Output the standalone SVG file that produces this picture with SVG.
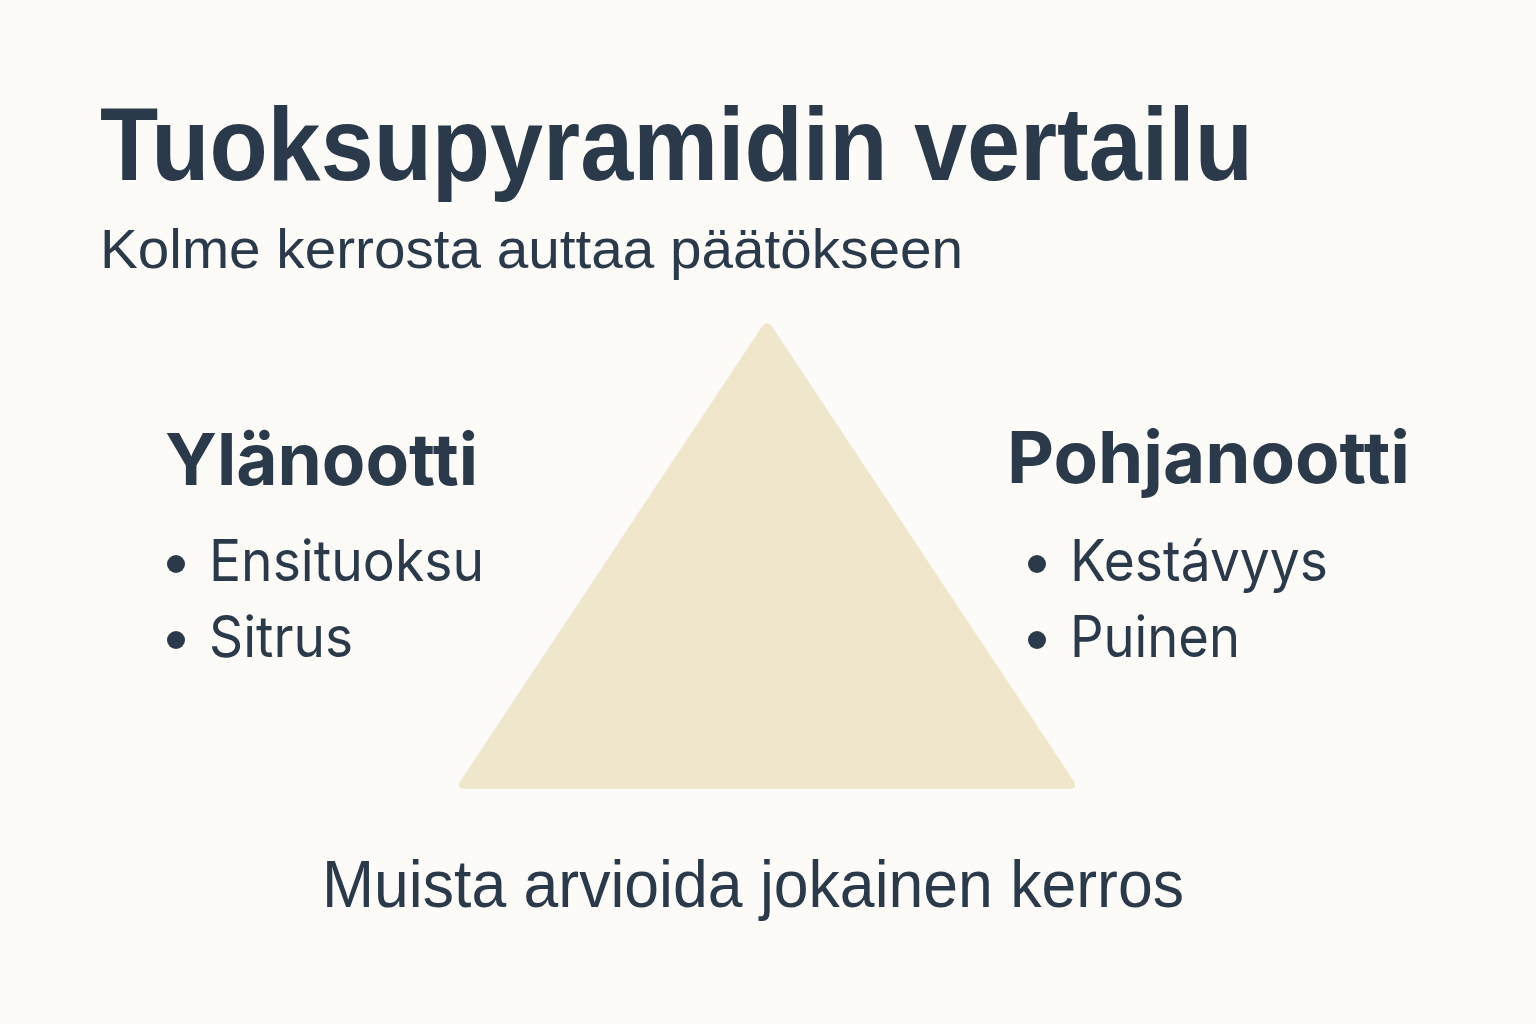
<svg xmlns="http://www.w3.org/2000/svg" width="1536" height="1024" viewBox="0 0 1536 1024">
<style>
.t{fill:#2B3A4A;font-family:"Liberation Sans",Arial,sans-serif}
.h{fill:#2B3A4A;font-family:Inter,"Noto Sans",sans-serif;font-weight:700}
.b{fill:#2B3A4A;font-family:Inter,"Noto Sans",sans-serif;font-weight:400}
.dot{fill:#2B3A4A}
</style>
<rect width="1536" height="1024" fill="#FDFBF7"/>
<g id="title">
<text class="t" x="100" y="180" font-size="104" font-weight="700" textLength="1153" lengthAdjust="spacingAndGlyphs">Tuoksupyramidin vertailu</text>
<text class="t" x="100" y="268" font-size="56" textLength="863" lengthAdjust="spacingAndGlyphs">Kolme kerrosta auttaa päätökseen</text>
</g>
<g id="pyramid">
<path d="M761,328 Q767,318 773,328 L1073,780 Q1079,789 1068,789 L466,789 Q455,789 461,780 Z" fill="#F0E6CC"/>
</g>
<g id="top-note">
<text class="h" x="165" y="485" font-size="72" textLength="313" lengthAdjust="spacingAndGlyphs">Ylänootti</text>
<circle class="dot" cx="176" cy="564" r="9"/>
<text class="b" x="209" y="581" font-size="57" textLength="275" lengthAdjust="spacingAndGlyphs">Ensituoksu</text>
<circle class="dot" cx="176" cy="640" r="9"/>
<text class="b" x="209" y="657" font-size="57" textLength="144" lengthAdjust="spacingAndGlyphs">Sitrus</text>
</g>
<g id="base-note">
<text class="h" x="1007" y="483" font-size="72" textLength="403" lengthAdjust="spacingAndGlyphs">Pohjanootti</text>
<circle class="dot" cx="1037" cy="564" r="9"/>
<text class="b" x="1070" y="581" font-size="57" textLength="258" lengthAdjust="spacingAndGlyphs">Kestávyys</text>
<circle class="dot" cx="1037" cy="640" r="9"/>
<text class="b" x="1070" y="657" font-size="57" textLength="170" lengthAdjust="spacingAndGlyphs">Puinen</text>
</g>
<g id="footer">
<text class="t" x="322" y="907" font-size="66" textLength="862" lengthAdjust="spacingAndGlyphs">Muista arvioida jokainen kerros</text>
</g>
<g id="connectors"/>
</svg>
